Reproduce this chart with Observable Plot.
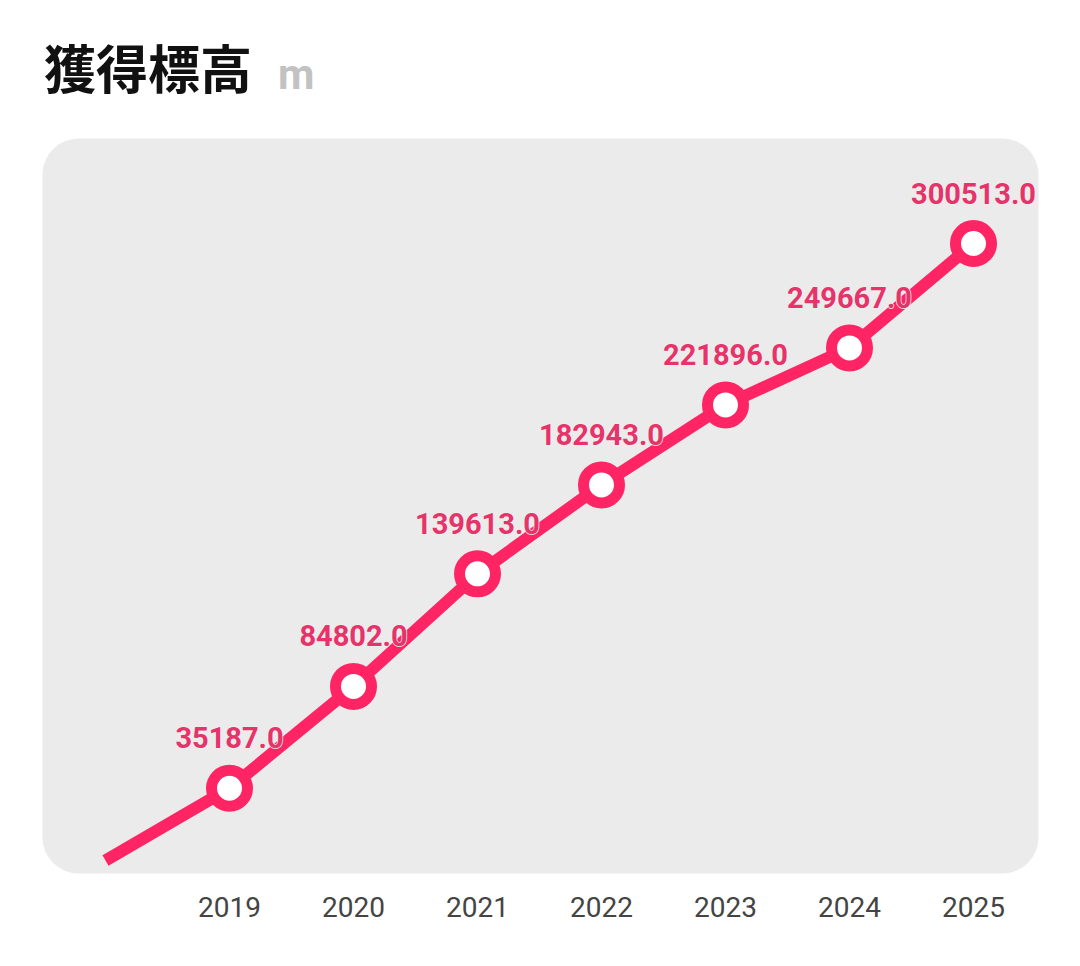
<!DOCTYPE html>
<html>
<head>
<meta charset="utf-8">
<script src="https://cdn.jsdelivr.net/npm/d3@7"></script>
<script src="https://cdn.jsdelivr.net/npm/@observablehq/plot@0.6"></script>
<style>
  html, body { margin: 0; padding: 0; background: #fff; width: 1080px; height: 966px; overflow: hidden; }
  #title { position: absolute; left: 44px; top: 29px; height: 100px; font-family: "Noto Sans CJK JP", sans-serif; white-space: nowrap; }
  #title .main { font-size: 52px; font-weight: 700; color: #111; line-height: 76px; }
  #title .unit { font-family: Roboto, sans-serif; font-size: 42px; font-weight: 700; color: #c2c2c2; margin-left: 26px; }
  #chart { position: absolute; left: 0; top: 130px; }
</style>
</head>
<body>
<div id="title"><span class="main">獲得標高</span><span class="unit">m</span></div>
<div id="chart"></div>
<script>
const years = [2018, 2019, 2020, 2021, 2022, 2023, 2024, 2025];
const values = [0, 35187, 84802, 139613, 182943, 221896, 249667, 300513];
const tickYears = [2019, 2020, 2021, 2022, 2023, 2024, 2025];

const data = years.map((year, i) => ({year, value: values[i]}));
const labeled = data.filter(d => tickYears.includes(d.year));

const lineColor = "#ff2464";
const labelColor = "#e6336a";

const chart = Plot.plot({
  width: 1080,
  height: 836,
  marginLeft: 42,
  marginRight: 42,
  marginTop: 8,
  marginBottom: 93,
  style: {background: "transparent", fontFamily: "Roboto, sans-serif"},
  x: {domain: [2018, 2025], range: [105, 973]},
  y: {domain: [0, 300513], range: [730, 113], axis: null},
  marks: [
    Plot.frame({fill: "#ebebeb", stroke: null, rx: 36}),
    Plot.axisX({ticks: tickYears, tickFormat: d => String(d), tickSize: 0, tickPadding: 24, fontSize: 28, color: "#444", label: null}),
    Plot.line(data, {x: "year", y: "value", stroke: lineColor, strokeWidth: 12, curve: "linear", strokeLinecap: "butt", strokeLinejoin: "round"}),
    Plot.dot(labeled, {x: "year", y: "value", r: 18, fill: "white", stroke: lineColor, strokeWidth: 11}),
    Plot.text(labeled, {x: "year", y: "value", text: d => d3.format(".1f")(d.value), dy: -40, lineAnchor: "bottom", fill: labelColor, fontSize: 29, fontWeight: 700, stroke: "#efefef", strokeWidth: 1.5})
  ]
});
document.getElementById("chart").appendChild(chart);
</script>
</body>
</html>
